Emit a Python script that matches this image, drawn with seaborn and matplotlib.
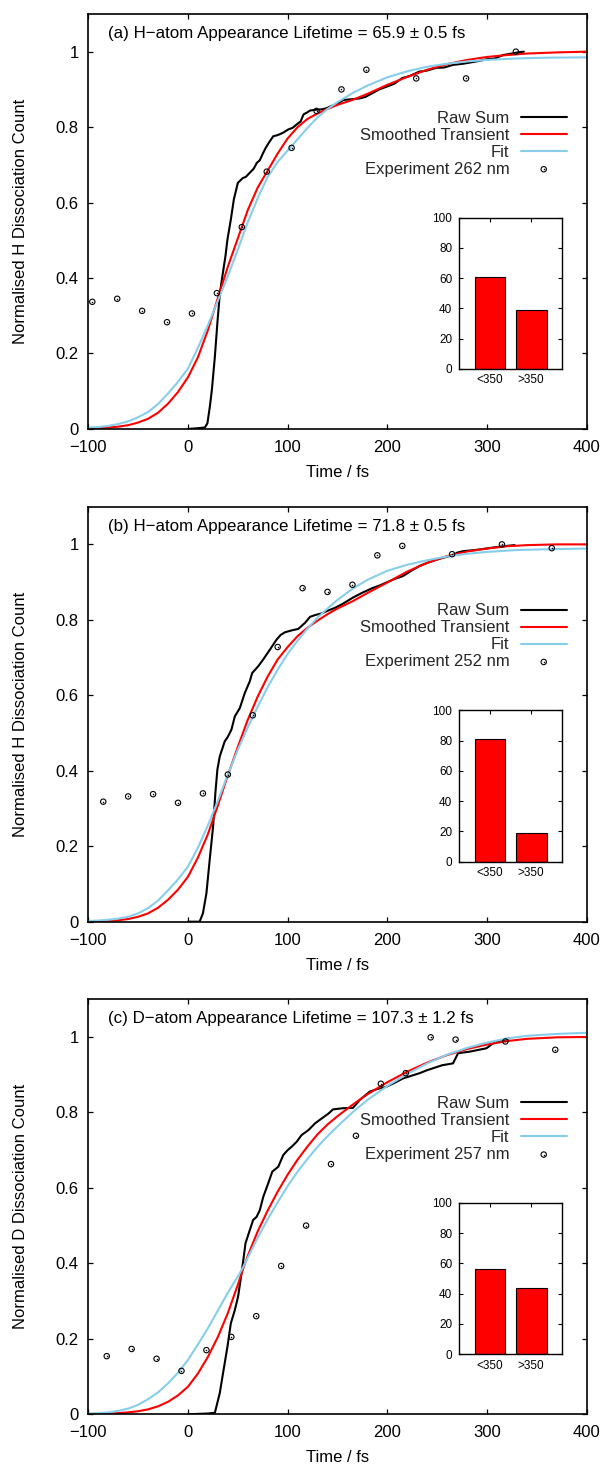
import matplotlib
matplotlib.use("Agg")
import matplotlib.pyplot as plt
from matplotlib.ticker import FuncFormatter, MultipleLocator
import seaborn as sns

sns.set_theme(style="ticks")
plt.rcParams["font.family"] = ["Liberation Sans", "DejaVu Sans"]
plt.rcParams["axes.unicode_minus"] = True

# ---------------- panel (a): H-atom, 262 nm ----------------
raw_a = [(0, 0.0), (10, 0.002), (17, 0.004), (19.5, 0.015), (22, 0.06), (24, 0.104),
         (27, 0.192), (29.5, 0.281), (32, 0.36), (35, 0.413), (37.6, 0.458), (39.6, 0.502),
         (43, 0.555), (46, 0.608), (50, 0.652), (55, 0.665), (58, 0.668), (62, 0.679),
         (66, 0.69), (69, 0.705), (72, 0.712), (75.5, 0.732), (78, 0.745), (81, 0.758),
         (85.6, 0.776), (89, 0.778), (92, 0.781), (96, 0.786), (100.7, 0.794), (105, 0.798),
         (109, 0.807), (113, 0.815), (116, 0.834), (119, 0.838), (122.5, 0.844), (128, 0.846),
         (134, 0.847), (139, 0.85), (144, 0.856), (150, 0.862), (156, 0.872), (165, 0.874),
         (172, 0.876), (178, 0.88), (185, 0.89), (192, 0.9), (200, 0.908), (207, 0.915),
         (215, 0.93), (222, 0.935), (232, 0.947), (240, 0.95), (249, 0.957), (257, 0.958),
         (266, 0.965), (276, 0.968), (285, 0.972), (293, 0.976), (300, 0.98), (308, 0.982),
         (316, 0.991), (325, 0.995), (331, 0.998), (337, 1.0)]
smooth_a = [(-100, 0.001), (-90, 0.002), (-80, 0.004), (-70, 0.006), (-60, 0.01), (-50, 0.017),
            (-40, 0.027), (-30, 0.043), (-20, 0.067), (-10, 0.098), (0, 0.137), (10, 0.19),
            (20, 0.262), (30, 0.347), (40, 0.43), (50, 0.505), (60, 0.58), (70, 0.64),
            (80, 0.685), (90, 0.73), (100, 0.77), (110, 0.8), (120, 0.822), (130, 0.836),
            (140, 0.848), (150, 0.859), (165, 0.872), (180, 0.888), (200, 0.912), (220, 0.933),
            (240, 0.952), (260, 0.967), (280, 0.978), (300, 0.986), (320, 0.991), (340, 0.995),
            (370, 0.998), (400, 1.0)]
fit_a = [(-100, 0.004), (-90, 0.005), (-80, 0.008), (-70, 0.013), (-60, 0.02), (-50, 0.031),
         (-40, 0.045), (-30, 0.066), (-20, 0.094), (-10, 0.125), (0, 0.16), (10, 0.215),
         (20, 0.275), (30, 0.34), (40, 0.405), (50, 0.475), (60, 0.548), (70, 0.612),
         (80, 0.668), (90, 0.708), (100, 0.738), (110, 0.768), (120, 0.798), (130, 0.826),
         (140, 0.848), (150, 0.866), (165, 0.89), (180, 0.91), (200, 0.932), (220, 0.948),
         (240, 0.96), (260, 0.968), (280, 0.974), (300, 0.978), (330, 0.982), (360, 0.984),
         (400, 0.985)]
exp_t_a = [-96, -71, -46, -21, 4, 29, 54, 79, 104, 129, 154, 179, 229, 279, 329]
exp_v_a = [0.337, 0.345, 0.313, 0.283, 0.306, 0.360, 0.535, 0.682, 0.745, 0.843, 0.900,
           0.952, 0.929, 0.929, 1.000]
bars_a = [61, 39]

# ---------------- panel (b): H-atom, 252 nm ----------------
raw_b = [(0, 0.0), (11.7, 0.0), (15, 0.022), (18.5, 0.075), (21.8, 0.164), (25.2, 0.252),
         (27.5, 0.341), (29.5, 0.403), (31.9, 0.438), (36.9, 0.478), (40, 0.49), (43.6, 0.509),
         (47, 0.544), (52, 0.566), (57, 0.606), (62, 0.637), (64.4, 0.659), (70.5, 0.677),
         (75.5, 0.695), (82.2, 0.721), (89, 0.748), (93, 0.76), (97.3, 0.767), (104, 0.772),
         (110.7, 0.776), (117.4, 0.792), (122.5, 0.808), (128, 0.813), (134, 0.817),
         (140, 0.824), (147.7, 0.832), (155, 0.842), (165.5, 0.859), (175, 0.872),
         (185, 0.884), (192.3, 0.891), (200, 0.9), (208, 0.909), (215.7, 0.916), (224, 0.93),
         (232.4, 0.943), (240, 0.951), (250, 0.96), (258, 0.966), (265.9, 0.971), (270, 0.978),
         (276, 0.982), (288, 0.985), (299.4, 0.989), (310, 0.993), (320, 0.996), (327.7, 0.998)]
smooth_b = [(-100, 0.0), (-90, 0.001), (-80, 0.002), (-70, 0.004), (-60, 0.007), (-50, 0.013),
            (-40, 0.022), (-30, 0.037), (-20, 0.058), (-10, 0.085), (0, 0.119), (10, 0.17),
            (20, 0.232), (30, 0.308), (40, 0.388), (50, 0.463), (60, 0.535), (70, 0.597),
            (80, 0.65), (90, 0.695), (100, 0.728), (110, 0.757), (120, 0.779), (130, 0.798),
            (140, 0.815), (150, 0.83), (165, 0.849), (180, 0.871), (200, 0.899), (220, 0.928),
            (240, 0.951), (260, 0.969), (280, 0.981), (300, 0.989), (320, 0.995), (340, 0.998),
            (370, 1.0), (400, 1.0)]
fit_b = [(-100, 0.002), (-90, 0.003), (-80, 0.005), (-70, 0.008), (-60, 0.013), (-50, 0.022),
         (-40, 0.036), (-30, 0.056), (-20, 0.083), (-10, 0.112), (0, 0.146), (10, 0.196),
         (20, 0.255), (30, 0.32), (40, 0.39), (50, 0.456), (60, 0.515), (70, 0.57),
         (80, 0.622), (90, 0.668), (100, 0.71), (110, 0.745), (120, 0.777), (130, 0.806),
         (140, 0.83), (150, 0.853), (165, 0.882), (180, 0.906), (200, 0.93), (220, 0.946),
         (240, 0.958), (260, 0.968), (280, 0.975), (300, 0.98), (330, 0.985), (360, 0.987),
         (400, 0.989)]
exp_t_b = [-85, -60, -35, -10, 15, 40, 65, 90, 115, 140, 165, 190, 215, 265, 315, 365]
exp_v_b = [0.318, 0.332, 0.338, 0.315, 0.340, 0.390, 0.547, 0.728, 0.884, 0.874, 0.893,
           0.971, 0.996, 0.974, 1.000, 0.990]
bars_b = [81, 19]

# ---------------- panel (c): D-atom, 257 nm ----------------
raw_c = [(0, 0.0), (20, 0.002), (27, 0.004), (28.5, 0.02), (31.9, 0.056), (35.2, 0.109),
         (39.6, 0.179), (43, 0.241), (47, 0.276), (50.3, 0.312), (53.7, 0.373), (56.4, 0.426),
         (57.7, 0.453), (62, 0.488), (65.4, 0.515), (68.8, 0.523), (72.1, 0.541), (75.5, 0.576),
         (80.5, 0.612), (84.6, 0.643), (90.6, 0.656), (95.6, 0.687), (100, 0.7), (104, 0.709),
         (109, 0.722), (114, 0.74), (120.8, 0.753), (127.5, 0.771), (134.2, 0.784), (141, 0.797),
         (145.5, 0.808), (155, 0.811), (165.5, 0.812), (172.3, 0.833), (182.3, 0.855),
         (190, 0.862), (199, 0.868), (207, 0.878), (215.7, 0.89), (224, 0.897), (232.4, 0.904),
         (240, 0.912), (245.8, 0.917), (255, 0.925), (265.9, 0.93), (271, 0.957), (282.6, 0.961),
         (290, 0.965), (299.4, 0.97), (306, 0.983), (315, 0.99), (322.8, 0.997)]
smooth_c = [(-100, 0.0), (-90, 0.001), (-80, 0.002), (-70, 0.003), (-60, 0.005), (-50, 0.008),
            (-40, 0.013), (-30, 0.021), (-20, 0.033), (-10, 0.05), (0, 0.073), (10, 0.108),
            (20, 0.152), (30, 0.205), (40, 0.268), (50, 0.343), (55, 0.383), (60, 0.42),
            (70, 0.485), (80, 0.54), (90, 0.59), (100, 0.635), (110, 0.675), (120, 0.71),
            (130, 0.742), (140, 0.768), (150, 0.79), (165, 0.82), (180, 0.848), (200, 0.88),
            (220, 0.908), (240, 0.932), (260, 0.952), (280, 0.968), (300, 0.98), (320, 0.989),
            (340, 0.995), (370, 0.999), (400, 1.0)]
fit_c = [(-100, 0.002), (-90, 0.003), (-80, 0.005), (-70, 0.009), (-60, 0.015), (-50, 0.025),
         (-40, 0.04), (-30, 0.058), (-20, 0.082), (-10, 0.11), (0, 0.144), (10, 0.185),
         (20, 0.228), (30, 0.275), (40, 0.322), (50, 0.365), (55, 0.388), (60, 0.415),
         (70, 0.468), (80, 0.517), (90, 0.562), (100, 0.605), (110, 0.643), (120, 0.677),
         (130, 0.709), (140, 0.737), (150, 0.763), (165, 0.8), (180, 0.833), (200, 0.87),
         (220, 0.902), (240, 0.93), (260, 0.953), (280, 0.971), (300, 0.985), (320, 0.996),
         (340, 1.003), (370, 1.008), (400, 1.011)]
exp_t_c = [-81.5, -56.5, -31.5, -6.5, 18.5, 43.5, 68.5, 93.5, 118.5, 143.5, 168.5, 193.5,
           218.5, 243.5, 268.5, 318.5, 368.5]
exp_v_c = [0.154, 0.173, 0.147, 0.115, 0.170, 0.205, 0.260, 0.393, 0.500, 0.663, 0.738,
           0.876, 0.904, 0.999, 0.993, 0.988, 0.966]
bars_c = [56, 44]

bar_labels = ["<350", ">350"]
titles = ["(a) H\u2212atom Appearance Lifetime = 65.9 \u00b1 0.5 fs",
          "(b) H\u2212atom Appearance Lifetime = 71.8 \u00b1 0.5 fs",
          "(c) D\u2212atom Appearance Lifetime = 107.3 \u00b1 1.2 fs"]
ylabels = ["Normalised H Dissociation Count", "Normalised H Dissociation Count",
           "Normalised D Dissociation Count"]
exp_labels = ["Experiment 262 nm", "Experiment 252 nm", "Experiment 257 nm"]
series_labels = ["Raw Sum", "Smoothed Transient", "Fit"]

panels = [
    (raw_a, smooth_a, fit_a, exp_t_a, exp_v_a, bars_a),
    (raw_b, smooth_b, fit_b, exp_t_b, exp_v_b, bars_b),
    (raw_c, smooth_c, fit_c, exp_t_c, exp_v_c, bars_c),
]

SKY = "#87ceeb"
LW = 1.5


def signed(v, pos):
    return f"{v:g}".replace("-", "\u2212")


def frame(ax, lw):
    for sp in ax.spines.values():
        sp.set_visible(True)
        sp.set_linewidth(lw)
        sp.set_color("black")


fig = plt.figure(figsize=(6.06, 14.66), dpi=100)
bottoms = [0.7074, 0.3713, 0.0353]

for i, (raw, smooth, fit, et, ev, bars) in enumerate(panels):
    ax = fig.add_axes([0.1457, bottoms[i], 0.8224, 0.2831])

    handles = []
    for pts, col in ((raw, "black"), (smooth, "red"), (fit, SKY)):
        xs, ys = zip(*pts)
        sns.lineplot(x=list(xs), y=list(ys), ax=ax, color=col, linewidth=LW,
                     estimator=None, sort=False)
        handles.append(ax.lines[-1])

    sns.scatterplot(x=et, y=ev, ax=ax, marker="o", s=15, linewidth=0.8, zorder=4)
    ring = ax.collections[-1]
    ring.set_facecolor("none")
    ring.set_edgecolor("black")
    sns.scatterplot(x=et, y=ev, ax=ax, marker="o", s=1.2, linewidth=0, zorder=5)
    dot = ax.collections[-1]
    dot.set_facecolor("black")
    handles.append((ring, dot))

    ax.set_xlim(-100, 400)
    ax.set_ylim(0, 1.1)
    ax.xaxis.set_major_locator(MultipleLocator(100))
    ax.yaxis.set_major_locator(MultipleLocator(0.2))
    ax.xaxis.set_major_formatter(FuncFormatter(signed))
    ax.yaxis.set_major_formatter(FuncFormatter(signed))
    ax.tick_params(direction="in", top=True, right=True, length=3.5, width=0.9,
                   labelsize=12, color="black", labelcolor="black")
    ax.tick_params(axis="x", pad=8)
    ax.tick_params(axis="y", pad=7)
    frame(ax, 1.2)
    ax.set_xlabel("Time / fs", fontsize=12, labelpad=7, color="black")
    ax.set_ylabel(ylabels[i], fontsize=12, labelpad=20, color="black")

    ax.text(0.040, 0.953, titles[i], transform=ax.transAxes, fontsize=12.2,
            ha="left", va="center", color="black")

    ax.legend(handles, series_labels + [exp_labels[i]], loc="upper right",
              bbox_to_anchor=(0.960, 0.767), markerfirst=False, frameon=False,
              fontsize=12, handlelength=2.76, handletextpad=0.68, labelspacing=0.12,
              borderpad=0, borderaxespad=0, scatterpoints=1)

    ins = ax.inset_axes([0.744, 0.1446, 0.2067, 0.3646])
    sns.barplot(x=bar_labels, y=bars, ax=ins, color="red", saturation=1,
                edgecolor="black", linewidth=0.8, width=0.75)
    ins.set_xlim(-0.755, 1.755)
    ins.set_ylim(0, 100)
    ins.yaxis.set_major_locator(MultipleLocator(20))
    ins.tick_params(direction="in", top=True, right=True, length=3, width=0.8,
                    labelsize=8.5, color="black", labelcolor="black")
    ins.tick_params(axis="x", bottom=False, labelbottom=True, pad=4)
    ins.tick_params(axis="y", pad=5)
    ins.set_xlabel("")
    ins.set_ylabel("")
    frame(ins, 1.0)

fig.savefig("out.png", dpi=100)
